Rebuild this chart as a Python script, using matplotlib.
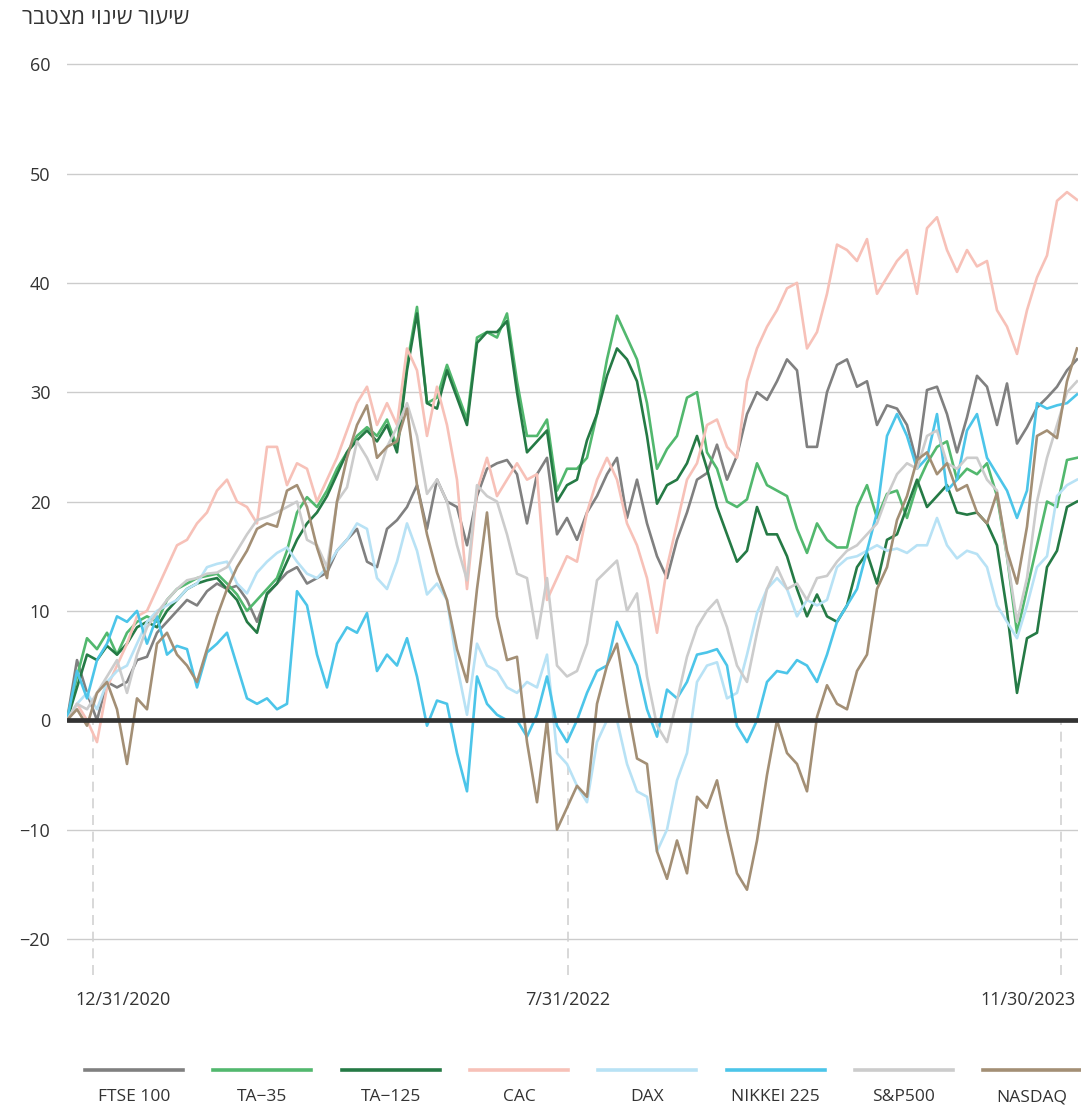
import numpy as np
import matplotlib
matplotlib.use("Agg")
import matplotlib.pyplot as plt
from matplotlib.lines import Line2D

plt.rcParams['font.family'] = ['Open Sans', 'DejaVu Sans']

# ---------------- data ----------------
title_text = "שיעור שינוי מצטבר"
series_names = ["FTSE 100", "TA\u221235", "TA\u2212125", "CAC", "DAX", "NIKKEI 225", "S&P500", "NASDAQ"]
tick_labels = ["12/31/2020", "7/31/2022", "11/30/2023"]
tick_index = [2.6, 50.1, 99.4]   # period index at which each date falls

ftse = [0, 5.5, 2.5, 0, 3.5, 3, 3.5, 5.5, 5.8, 8,
        9, 10, 11, 10.5, 11.8, 12.5, 12, 12.3, 11, 9,
        11.5, 12.5, 13.5, 14, 12.5, 13, 13.5, 15.5, 16.5, 17.5,
        14.5, 14, 17.5, 18.3, 19.5, 21.5, 17.5, 22, 20, 19.5,
        16, 20.5, 23, 23.5, 23.8, 22.5, 18, 22.5, 24, 17,
        18.5, 16.5, 19, 20.5, 22.5, 24, 18.5, 22, 18, 15,
        13, 16.5, 19, 22, 22.6, 25.2, 22, 24.2, 28, 30,
        29.3, 31, 33, 32, 25, 25, 30, 32.5, 33, 30.5,
        31, 27, 28.8, 28.5, 27, 23.5, 30.2, 30.5, 28, 24.5,
        27.7, 31.5, 30.5, 27, 30.8, 25.3, 26.8, 28.6, 29.5, 30.5,
        32, 33]
ta35 = [0, 4, 7.5, 6.5, 8, 6, 8, 9, 9.5, 9,
        11, 12, 12.5, 13, 13.2, 13.4, 12.5, 11.5, 10, 11,
        12, 13, 15.5, 19, 20.4, 19.5, 21, 23, 24.5, 26,
        26.8, 26, 27.5, 25, 32.5, 37.8, 29, 29.5, 32.5, 30,
        27.5, 35, 35.5, 35, 37.2, 31, 26, 26, 27.5, 21,
        23, 23, 24, 28, 33, 37, 35, 33, 29, 23,
        24.8, 26, 29.5, 30, 24.5, 23, 20, 19.5, 20.2, 23.5,
        21.5, 21, 20.5, 17.5, 15.3, 18, 16.5, 15.8, 15.8, 19.5,
        21.5, 18.5, 20.7, 21, 18.5, 21.5, 23.5, 25, 25.5, 22,
        23, 22.5, 23.5, 20.5, 15, 8, 12, 16, 20, 19.5,
        23.8, 24]
ta125 = [0, 3, 6, 5.5, 6.8, 6, 7, 8.5, 9, 8.5,
         10, 11, 12, 12.5, 12.8, 13, 12, 11, 9, 8,
         11.6, 12.5, 14.5, 16.5, 18, 19, 20.5, 22.5, 24.5, 25.6,
         26.5, 25.5, 27, 24.5, 32, 37.2, 29, 28.5, 32, 29.5,
         27, 34.5, 35.5, 35.5, 36.5, 30, 24.5, 25.5, 26.5, 20,
         21.5, 22, 25.6, 28, 31.5, 34, 33, 31, 26, 19.8,
         21.5, 22, 23.5, 26, 23, 19.5, 17, 14.5, 15.5, 19.5,
         17, 17, 15, 12, 9.5, 11.5, 9.5, 9, 10.5, 14,
         15.3, 12.5, 16.5, 17, 19.5, 22, 19.5, 20.5, 21.5, 19,
         18.8, 19, 18, 16, 10, 2.5, 7.5, 8, 14, 15.5,
         19.5, 20]
cac = [0, 1.5, 0, -2, 3, 5, 7, 9.5, 10, 12,
       14, 16, 16.5, 18, 19, 21, 22, 20, 19.5, 18,
       25, 25, 21.5, 23.5, 23, 20, 22, 24, 26.5, 29,
       30.5, 27, 29, 27, 34, 32, 26, 30.5, 27, 22,
       12, 21, 24, 20.5, 22, 23.5, 22, 22.5, 11, 13,
       15, 14.5, 19, 22, 24, 22, 18, 16, 13, 8,
       14, 18, 22, 23.5, 27, 27.5, 25, 24, 31, 34,
       36, 37.5, 39.5, 40, 34, 35.5, 39, 43.5, 43, 42,
       44, 39, 40.5, 42, 43, 39, 45, 46, 43, 41,
       43, 41.5, 42, 37.5, 36, 33.5, 37.5, 40.5, 42.5, 47.5,
       48.3, 47.6]
dax = [0, 1.5, 2.5, 1, 3.5, 4.5, 5, 7, 9, 10,
       10.5, 11, 12, 12.5, 14, 14.3, 14.5, 12.5, 11.6, 13.5,
       14.5, 15.3, 15.8, 14.5, 13.4, 13, 14, 15.5, 16.5, 18,
       17.5, 13, 12, 14.5, 18, 15.5, 11.5, 12.5, 11, 5,
       0.5, 7, 5, 4.5, 3, 2.5, 3.5, 3, 6, -3,
       -4, -6, -7.5, -2, 0, 0, -4, -6.5, -7, -12,
       -10, -5.5, -3, 3.5, 5, 5.3, 2, 2.5, 6, 9.8,
       12, 13, 12, 9.5, 11, 10.5, 11, 14, 14.8, 15,
       15.5, 16, 15.5, 15.7, 15.3, 16, 16, 18.5, 16, 14.8,
       15.5, 15.2, 14, 10.5, 9, 7.5, 10.5, 14, 15, 20.5,
       21.5, 22]
nikkei = [0, 4.5, 2, 5.5, 7, 9.5, 9, 10, 7, 9.5,
          6, 6.8, 6.5, 3, 6.2, 7, 8, 5, 2, 1.5,
          2, 1, 1.5, 11.8, 10.5, 6, 3, 7, 8.5, 8,
          9.8, 4.5, 6, 5, 7.5, 4, -0.5, 1.8, 1.5, -3,
          -6.5, 4, 1.5, 0.5, 0, 0, -1.5, 0.5, 4, -0.5,
          -2, 0, 2.5, 4.5, 5, 9, 7, 5, 1, -1.5,
          2.8, 2, 3.5, 6, 6.2, 6.5, 5, -0.5, -2, 0,
          3.5, 4.5, 4.3, 5.5, 5, 3.5, 6, 9, 10.5, 12,
          15.5, 19, 26, 28, 26, 23, 24, 28, 21, 22,
          26.5, 28, 24, 22.5, 21, 18.5, 21, 29, 28.5, 28.8,
          29, 29.8]
sp500 = [0, 1.5, 1, 2.5, 4, 5.5, 2.5, 6, 8.5, 9.8,
         11, 12, 12.8, 13, 13.4, 13.5, 14, 15.5, 17, 18.3,
         18.6, 19, 19.5, 20, 16.5, 16, 14, 20, 21.3, 25.5,
         24, 22, 25, 26.8, 29, 26, 20.7, 22, 20, 16,
         12.8, 21.5, 20.5, 20, 17, 13.4, 13, 7.5, 13, 5,
         4, 4.5, 7, 12.8, 13.7, 14.6, 10, 11.6, 4, -0.5,
         -2, 1.8, 5.8, 8.5, 10, 11, 8.5, 5, 3.5, 8,
         12, 14, 12, 12.5, 11, 13, 13.2, 14.5, 15.5, 16,
         17, 18, 20.5, 22.5, 23.5, 23, 26, 26.5, 23.5, 23,
         24, 24, 22, 21, 15, 9, 13, 20, 24, 27,
         30, 31]
nasdaq = [0, 1, -0.5, 2.5, 3.5, 1, -4, 2, 1, 7,
          8, 6, 5, 3.5, 6.5, 9.5, 12, 14, 15.5, 17.5,
          18, 17.7, 21, 21.5, 19.5, 15.8, 13, 20, 24, 27,
          28.8, 24, 25, 25.5, 28.5, 21.5, 17, 13.5, 11, 6.5,
          3.5, 12, 19, 9.5, 5.5, 5.8, -2, -7.5, 0, -10,
          -8, -6, -7, 1.5, 5, 7, 1.5, -3.5, -4, -12,
          -14.5, -11, -14, -7, -8, -5.5, -10, -14, -15.5, -11,
          -5, 0, -3, -4, -6.5, 0.3, 3.2, 1.5, 1, 4.5,
          6, 12, 14, 18.3, 20.5, 23.8, 24.5, 22.5, 23.5, 21,
          21.5, 19, 18, 20.8, 15.5, 12.5, 17.7, 26, 26.5, 25.8,
          31, 34]

all_series = [ftse, ta35, ta125, cac, dax, nikkei, sp500, nasdaq]
colors = ["#808080", "#52b86e", "#257a45", "#f7c1b8", "#b8e2f5", "#4cc5e9", "#cccccc", "#a38f75"]

# ---------------- figure ----------------
W, H = 1081, 1111
fig = plt.figure(figsize=(W / 100, H / 100), dpi=100)
ax = fig.add_axes([67 / W, 1 - 975 / H, (1078 - 67) / W, (975 - 58.7) / H])
ax.set_xlim(0, 101.1)
ax.set_ylim(-23.3, 60.5)

for vals, c in zip(all_series, colors):
    ax.plot(np.arange(len(vals)), vals, color=c, lw=1.9, zorder=3,
            solid_joinstyle='round')

ax.axhline(0, color="#333333", lw=3.4, zorder=6, solid_capstyle='round')

# dashed date markers
for p in tick_index:
    ax.plot([p, p], [-23.3, 0], color="#d2d2d2", lw=1.2, ls=(0, (6, 4)),
            zorder=1, clip_on=False)

ax.set_yticks(range(-20, 61, 10))
ax.grid(axis='y', color="#cccccc", lw=1)
ax.set_axisbelow(True)
for s in ax.spines.values():
    s.set_visible(False)
ax.set_xticks([])
ax.tick_params(axis='both', length=0, labelsize=13, labelcolor="#333333")
ax.tick_params(axis='y', pad=12)

# date labels: first kept inside on the left, last kept inside on the right
aligns = ['left', 'center', 'right']
offsets_px = [-18, 0, 15]
for p, lab, ha, off in zip(tick_index, tick_labels, aligns, offsets_px):
    ax.annotate(lab, xy=(p, 0), xycoords=('data', 'axes fraction'),
                xytext=(off * 0.72, -25 * 0.72), textcoords='offset points',
                ha=ha, va='center', fontsize=13, color="#333333",
                annotation_clip=False)

# title (Hebrew, reversed for left-to-right glyph rendering)
fig.text(22 / W, 1 - 18 / H, title_text[::-1], ha='left', va='center',
         fontsize=16, color="#333333")

# legend
for i, (name, c) in enumerate(zip(series_names, colors)):
    cx = 134 + 128.3 * i
    fig.add_artist(Line2D([(cx - 49) / W, (cx + 49) / W], [1 - 1070 / H, 1 - 1070 / H],
                          color=c, lw=2.6, transform=fig.transFigure))
    fig.text(cx / W, 1 - 1097 / H, name, ha='center', va='center',
             fontsize=12.5, color="#333333")

fig.savefig("out.png", dpi=100)
